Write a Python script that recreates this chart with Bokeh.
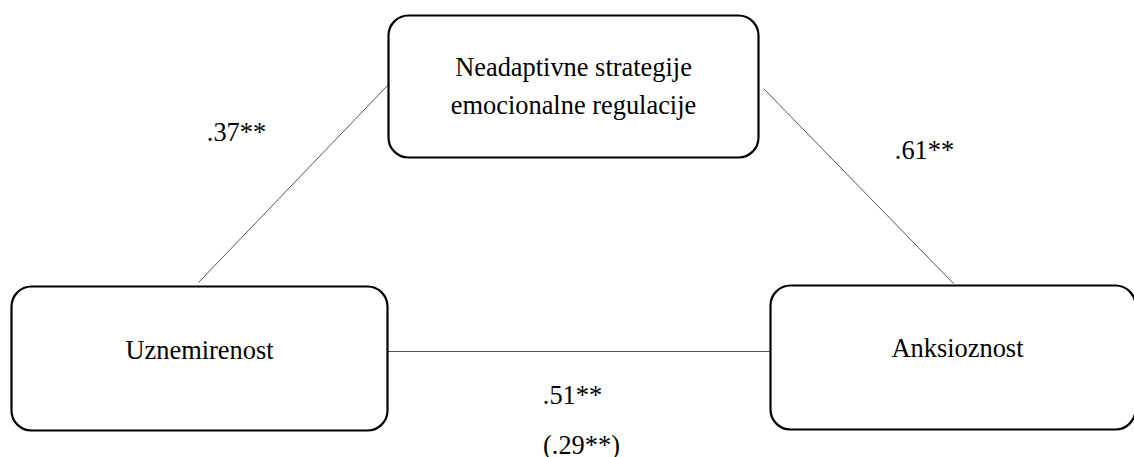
from bokeh.plotting import figure
from bokeh.models import Range1d
from bokeh.core.properties import value
from bokeh.embed import file_html
from bokeh.resources import INLINE

# ---- data ----
node_lines = [["Neadaptivne strategije", "emocionalne regulacije"],
              ["Uznemirenost"],
              ["Anksioznost"]]
path_a = ".37**"
path_b = ".61**"
path_c = ".51**"
path_c_direct = "(.29**)"

# ---- layout (image pixel coordinates) ----
W, H = 1134, 457
p = figure(width=W, height=H, output_backend="svg", toolbar_location=None,
           x_range=Range1d(0, W), y_range=Range1d(H, 0),
           min_border=0)
p.axis.visible = False
p.grid.visible = False
p.outline_line_color = None
p.background_fill_color = "white"

boxes = dict(left=[388, 11, 770], right=[758, 387, 1135],
             top=[15, 286, 285], bottom=[157, 430, 429])

# connecting lines
p.segment(x0=[198, 763, 387], y0=[282, 88, 351], x1=[388, 953, 770], y1=[84, 283, 351],
          line_color="#555555", line_width=1)

p.quad(left=boxes["left"], right=boxes["right"], top=boxes["top"], bottom=boxes["bottom"],
       fill_color="white", line_color="black", line_width=2.2, border_radius=20)

font = value("Liberation Serif")
dy = -8
tx, ty, tt = [], [], []
tx += [573, 573]; ty += [74 + dy, 112 + dy]; tt += node_lines[0]
tx += [199]; ty += [357 + dy]; tt += node_lines[1]
tx += [957]; ty += [355 + dy]; tt += node_lines[2]
p.text(x=tx, y=ty, text=tt, text_font=font, text_font_size="26.4px",
       text_align="center", text_baseline="alphabetic", text_color="#000000")

p.text(x=[236, 924, 572, 581], y=[139 + dy, 157 + dy, 402 + dy, 452 + dy],
       text=[path_a, path_b, path_c, path_c_direct], text_font=font,
       text_font_size="26.4px", text_align="center", text_baseline="alphabetic",
       text_color="#000000")

open("out.html", "w").write(file_html(p, INLINE))
